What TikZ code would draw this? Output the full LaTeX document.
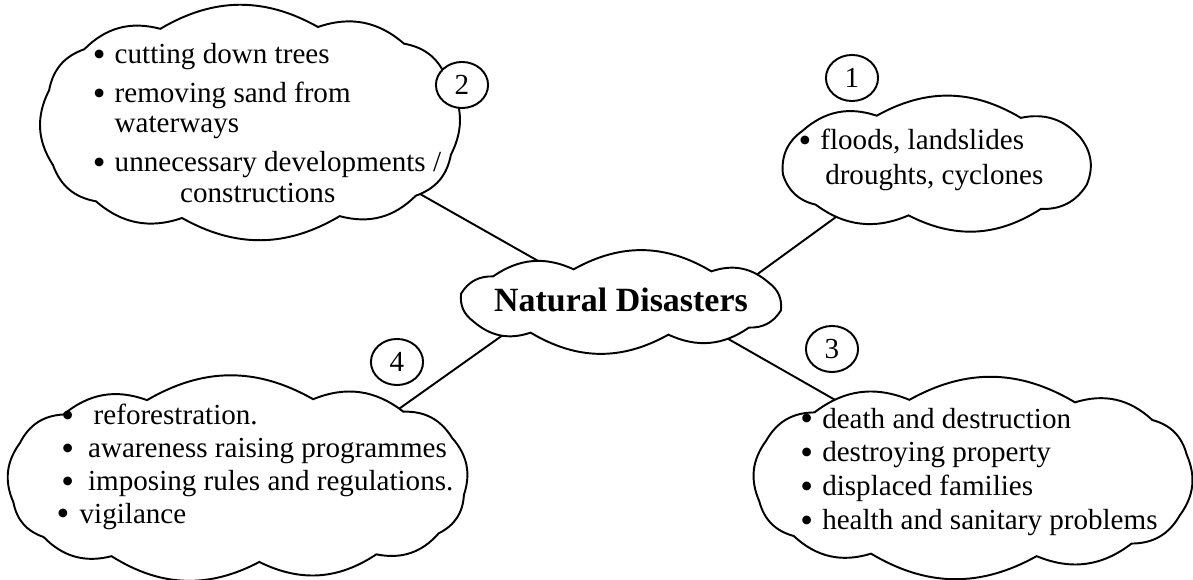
\documentclass[tikz,border=0pt]{standalone}
\usepackage{fontspec}
\setmainfont{Liberation Serif}
\usetikzlibrary{shapes.geometric,backgrounds}
\newcommand{\itm}[1][9pt]{\makebox[#1][l]{\raisebox{-1pt}{\scalebox{1.25}{\textbullet}}}}
% cloud outline: centre x, centre y, half width, half height, puffs, phase
\newcommand{\puffs}[6]{%
  \draw[fill=white] ({#1+#3*sx(#6)},{#2+#4*sy(#6)})
    foreach \k in {1,...,#5} { to[bend left=30] ({#1+#3*sx(#6+\k*360/#5)},{#2+#4*sy(#6+\k*360/#5)}) } -- cycle;}

\begin{document}
\begin{tikzpicture}[x=0.0145cm,y=-0.0145cm,line width=0.8pt,
  declare function={sx(\t)=ifthenelse(cos(\t)<0,-1,1)*pow(abs(cos(\t)),0.7);
                    sy(\t)=ifthenelse(sin(\t)<0,-1,1)*pow(abs(sin(\t)),0.7);},
  hub/.style={ellipse,inner sep=0pt,outer sep=0pt},
  link/.style={line width=0.8pt},
  txt/.style={align=left,inner sep=0pt,font=\fontsize{12}{14}\selectfont},
  num/.style={draw,fill=white,ellipse,minimum width=21.5pt,minimum height=19pt,inner sep=0pt,font=\fontsize{12}{14}\selectfont}]
 \useasboundingbox (0,0) rectangle (1193,580);
 % clouds
 \puffs{621}{302}{161}{33}{10}{8}
 \puffs{250}{122.5}{204}{97}{12}{12}
 \puffs{936.5}{165}{154}{50.5}{9}{15}
 \puffs{973}{478}{216}{79}{12}{20}
 \puffs{238}{480}{226.5}{82}{13}{5}
 \node[hub,minimum width=4.29cm,minimum height=0.87cm] (nd) at (621,302) {};
 \node[hub,minimum width=5.31cm,minimum height=2.58cm] (c2) at (247.5,122.5) {};
 \node[hub,minimum width=4.12cm,minimum height=1.33cm] (c1) at (936.5,165) {};
 \node[hub,minimum width=5.63cm,minimum height=2.12cm] (c3) at (975,478) {};
 \node[hub,minimum width=6.03cm,minimum height=2.20cm] (c4) at (238,480.5) {};
 %
 \node[inner sep=0pt,font=\fontsize{14}{16}\selectfont\bfseries] (t0) at (621,300) {Natural Disasters};
 \node[txt,font=\fontsize{12}{12.4}\selectfont] (t2) at (267,123) {\itm cutting down trees\\[3.7pt]
   \itm removing sand from\\ \hspace*{9pt}waterways\\[3.7pt]
   \itm unnecessary developments /\\ \hspace*{36pt}constructions};
 \node[txt,font=\fontsize{12}{14.4}\selectfont] (t1) at (921,160) {\itm floods, landslides\\ \hspace*{11pt}droughts, cyclones};
 \node[txt] (t3) at (979,472) {\itm death and destruction\\ \itm destroying property\\
   \itm displaced families\\ \itm health and sanitary problems};
 \node[txt,font=\fontsize{12}{13.6}\selectfont] (t4) at (255,467) {\hspace*{2pt}\itm[13.3pt]reforestration.\\
   \hspace*{2pt}\itm[11pt]awareness raising programmes\\ \hspace*{2pt}\itm[11pt]imposing rules and regulations.\\
   \itm[9.5pt]vigilance};
 %
 \node[num] (n1) at (852,78) {1};
 \node[num] (n2) at (462,85) {2};
 \node[num] (n3) at (832,349) {3};
 \node[num] (n4) at (397,362) {4};
 %
 \begin{scope}[on background layer]
  \draw[link] (c2.339) -- (nd.155);
  \draw[link] (c1.205) -- (nd.8);
  \draw[link] (c4.22) -- (nd.192);
  \draw[link] (c3.151) -- (nd.344);
 \end{scope}
\end{tikzpicture}
\end{document}
